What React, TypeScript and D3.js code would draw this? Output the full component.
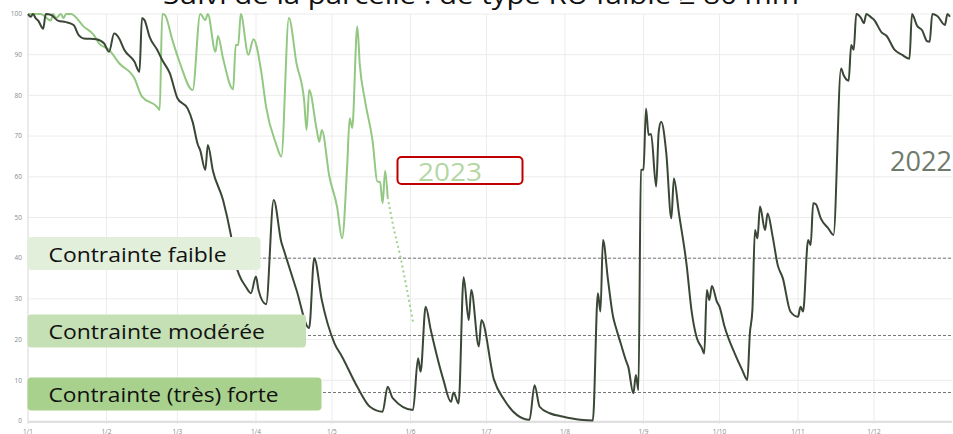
import * as d3 from "d3";
import React, { useRef, useEffect } from "react";

// day of year (2022 calendar) + reserve level (%)
const series2022: [number, number][] = [
  [0, 100], [1, 99.3], [2, 100], [3, 99], [4, 98.4], [6, 96.4], [7, 100], [9, 99.8], [12, 98.3],
  [15, 98], [18, 97.3], [20, 94.8], [22, 94], [27, 93.8], [30, 92.8], [32, 90.7], [34, 95.2],
  [36, 94], [38, 91.2], [42, 88.3], [44, 85.8], [45, 99], [46, 98.5], [48, 94.4], [51, 91.2],
  [53, 88.7], [56, 85.4], [59, 79.3], [63, 76.8], [65, 73.5], [67, 68], [68, 66.5], [70, 61.7],
  [71, 67.8], [73, 61.5], [77, 54.3], [80, 46], [82, 38.7], [86, 33], [88, 31.4], [90, 35.5],
  [91, 32.2], [94, 28.7], [97, 54.3], [100, 44], [101, 42], [106, 32.2], [111, 22.8], [113, 40],
  [116, 29.7], [121, 19.1], [124, 15.8], [130, 8.4], [135, 3.5], [140, 2.3], [142, 8.4],
  [144, 5.6], [152, 2.7], [154, 15.4], [155, 12.1], [157, 28.1], [159, 22.4], [164, 10.1],
  [167, 4.7], [168, 7], [170, 4.3], [172, 35.3], [174, 24.8], [175, 32.2], [178, 18.3],
  [179, 24.8], [184, 10.1], [188, 5.2], [193, 1.5], [198, 0.3], [200, 8.8], [202, 3.5],
  [206, 1.9], [211, 1.1], [218, 0.3], [223, 0.1], [225, 31.4], [226, 26.9], [227, 44.5],
  [229, 34.6], [231, 25.6], [232, 23.2], [234, 19.1], [236, 15], [237, 13.3], [239, 6.8],
  [240, 11.3], [241, 7.6], [242, 61.7], [243, 61.8], [244, 76.8], [245, 70.3], [246, 70.5],
  [248, 57.6], [249, 71], [250, 73.5], [252, 65.8], [254, 49.8], [255, 59.6], [257, 51],
  [260, 38.5], [262, 27], [264, 20.5], [266, 18], [267, 16.6], [268, 32.2], [269, 29.7],
  [270, 33.2], [272, 29.3], [273, 28.1], [275, 23.2], [279, 16.6], [282, 12.5], [284, 10.1],
  [285, 21.5], [286, 27.3], [287, 46.9], [288, 44.9], [289, 52.7], [291, 46.9], [292, 51],
  [294, 45.3], [296, 38.3], [298, 35.1], [301, 26.9], [304, 25.6], [305, 28.1], [306, 26.9],
  [308, 44.5], [309, 43.2], [310, 53.5], [311, 53.3], [313, 49.8], [316, 47.3], [318, 45.7],
  [321, 86.6], [322, 85], [324, 83.6], [325, 92.4], [326, 91.2], [327, 100], [329, 98.9],
  [330, 97.7], [331, 100], [333, 99.1], [334, 98.6], [337, 95.5], [339, 94.6], [342, 91.3],
  [345, 90], [348, 89], [349, 100], [351, 97.1], [353, 96], [355, 93.3], [356, 93.2],
  [357, 100], [359, 99.5], [362, 97.3], [363, 100], [364, 99.3],
];

const series2023: [number, number][] = [
  [0, 100], [5, 100], [9, 98.4], [10, 100], [11, 99], [13, 100], [14, 99], [15, 100], [17, 100],
  [22, 96.9], [26, 94.8], [28, 92.8], [32, 91.2], [36, 87.9], [42, 84.2], [45, 79.7], [51, 77.2],
  [52, 76.4], [53, 100], [54, 99.8], [57, 93.6], [60, 87.9], [65, 81.3], [68, 100], [70, 98.5],
  [71, 100], [74, 90.7], [75, 94.6], [77, 89.1], [81, 81.5], [82, 92.4], [83, 92.4], [84, 100],
  [87, 90], [89, 93.8], [92, 86.2], [94, 77.2], [98, 68], [100, 65], [103, 99], [106, 87.9],
  [109, 78.9], [110, 71.5], [111, 81.3], [114, 71.5], [115, 68.6], [116, 71.5], [119, 60],
  [122, 52.7], [124, 44.9], [126, 62.5], [127, 74.4], [128, 72], [130, 96.9], [131, 87.5],
  [133, 78.9], [136, 69], [138, 58.8], [139, 58.8], [140, 53.5], [141, 61.5], [142, 55],
];

const forecast2023: [number, number][] = [[142, 55], [144, 48.5], [147, 40.4], [152, 24.4]];

const yTicks = [0, 10, 20, 30, 40, 50, 60, 70, 80, 90, 100];
const monthLabels = ["1/1", "1/2", "1/3", "1/4", "1/5", "1/6", "1/7", "1/8", "1/9", "1/10", "1/11", "1/12"];
const thresholds = [40, 21, 7];
const thresholdLabels = ["Contrainte faible", "Contrainte modérée", "Contrainte (très) forte"];
const title = "Suivi de la parcelle : de type RU faible ≥ 80 mm";

const W = 953;
const H = 434;
const start = Date.UTC(2022, 0, 1);
const dayDate = (d: number) => new Date(start + d * 864e5);

// label boxes (x, y, w, h, fill) and text baselines
const boxes = [
  { y: 237, w: 233, h: 33, fill: "#e2efda", base: 261.5, tl: 178 },
  { y: 314.5, w: 278.5, h: 33, fill: "#c5e0b4", base: 338.5, tl: 216.5 },
  { y: 377.5, w: 294, h: 33, fill: "#a9d18e", base: 401.5, tl: 230 },
];

function Chart() {
  const ref = useRef<SVGSVGElement>(null);

  useEffect(() => {
    const svg = d3.select(ref.current);
    svg.selectAll("*").remove();

    const x = d3.scaleUtc().domain([new Date(start), new Date(Date.UTC(2023, 0, 1))]).range([28, 952.5]);
    const y = d3.scaleLinear().domain([0, 100]).range([421, 14]);

    svg.append("rect").attr("width", W).attr("height", H).attr("fill", "#fff");

    // grid
    const grid = svg.append("g");
    grid.selectAll(".hg")
      .data(yTicks)
      .join("line")
      .attr("x1", 28).attr("x2", 952)
      .attr("y1", (d) => y(d)).attr("y2", (d) => y(d))
      .attr("stroke", "#ececec").attr("stroke-width", 1);
    const months = d3.utcMonth.range(new Date(start), new Date(Date.UTC(2023, 0, 1)));
    grid.selectAll(".vg")
      .data(months)
      .join("line")
      .attr("x1", (d) => x(d)).attr("x2", (d) => x(d))
      .attr("y1", 14).attr("y2", 424)
      .attr("stroke", "#ececec").attr("stroke-width", 1);
    grid.append("line").attr("x1", 28).attr("x2", 952).attr("y1", 422).attr("y2", 422)
      .attr("stroke", "#e0e0e0").attr("stroke-width", 2);
    grid.append("line").attr("x1", 28).attr("x2", 28).attr("y1", 14).attr("y2", 424)
      .attr("stroke", "#e0e0e0").attr("stroke-width", 1);

    // tick labels
    svg.append("g").selectAll("text")
      .data(yTicks)
      .join("text")
      .attr("x", 22).attr("y", (d) => y(d) + 2.2)
      .attr("text-anchor", "end")
      .attr("font-family", "Open Sans, sans-serif").attr("font-size", 6.5)
      .attr("fill", "#8a8a8a")
      .text((d) => d);
    svg.append("g").selectAll("text")
      .data(months)
      .join("text")
      .attr("x", (d) => x(d)).attr("y", 433.5)
      .attr("text-anchor", "middle")
      .attr("font-family", "Open Sans, sans-serif").attr("font-size", 6.5)
      .attr("fill", "#8a8a8a")
      .text((d, i) => monthLabels[i]);

    // thresholds
    svg.append("g").selectAll("line")
      .data(thresholds)
      .join("line")
      .attr("x1", 28).attr("x2", 952)
      .attr("y1", (d) => y(d)).attr("y2", (d) => y(d))
      .attr("stroke", "#777").attr("stroke-width", 1).attr("stroke-dasharray", "3,2");

    const line = d3.line<[number, number]>()
      .x((d) => x(dayDate(d[0])))
      .y((d) => y(d[1]))
      .curve(d3.curveMonotoneX);

    svg.append("path").datum(series2023).attr("d", line)
      .attr("fill", "none").attr("stroke", "#93c882").attr("stroke-width", 2);
    svg.append("path").datum(forecast2023).attr("d", line)
      .attr("fill", "none").attr("stroke", "#9fd08c").attr("stroke-width", 2)
      .attr("stroke-dasharray", "2,3");
    svg.append("path").datum(series2022).attr("d", line)
      .attr("fill", "none").attr("stroke", "#3a4736").attr("stroke-width", 2)
      .attr("stroke-linejoin", "round");

    // label boxes
    const lab = svg.append("g").selectAll("g").data(boxes).join("g");
    lab.append("rect")
      .attr("x", 27.5).attr("y", (d) => d.y)
      .attr("width", (d) => d.w).attr("height", (d) => d.h)
      .attr("rx", 4).attr("fill", (d) => d.fill);
    lab.append("text")
      .attr("x", 48.5).attr("y", (d) => d.base)
      .attr("font-family", "Open Sans, sans-serif").attr("font-size", 20)
      .attr("textLength", (d) => d.tl).attr("lengthAdjust", "spacingAndGlyphs")
      .attr("fill", "#111")
      .text((d, i) => thresholdLabels[i]);

    // year tags
    svg.append("rect").attr("x", 397.5).attr("y", 157).attr("width", 125).attr("height", 27)
      .attr("rx", 4).attr("fill", "#fff").attr("stroke", "#c00000").attr("stroke-width", 2);
    svg.append("text").attr("x", 418).attr("y", 181)
      .attr("font-family", "Open Sans, sans-serif").attr("font-size", 26)
      .attr("textLength", 64).attr("lengthAdjust", "spacingAndGlyphs")
      .attr("fill", "#b4d7a4").text("2023");
    svg.append("text").attr("x", 890).attr("y", 170.5)
      .attr("font-family", "Open Sans, sans-serif").attr("font-size", 27)
      .attr("textLength", 62).attr("lengthAdjust", "spacingAndGlyphs")
      .attr("fill", "#6f7a6b").text("2022");

    // title, mostly cropped at the top
    svg.append("text").attr("x", 481).attr("y", 4)
      .attr("text-anchor", "middle")
      .attr("font-family", "Open Sans, sans-serif").attr("font-size", 26)
      .attr("textLength", 636).attr("lengthAdjust", "spacingAndGlyphs")
      .attr("fill", "#111").text(title);
  }, []);

  return <svg ref={ref} width={W} height={H} style={{ position: "absolute", left: 0, top: 0 }} />;
}

export default function App() {
  return <Chart />;
}
